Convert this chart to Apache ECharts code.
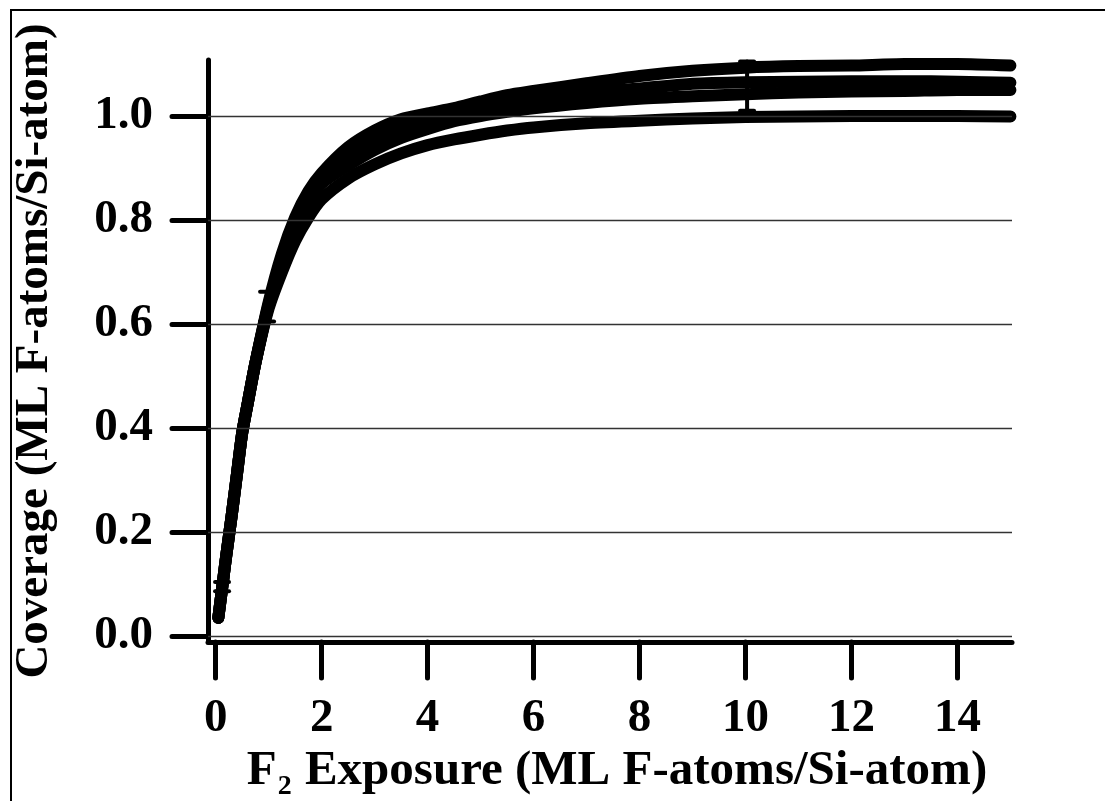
<!DOCTYPE html>
<html>
<head>
<meta charset="utf-8">
<title>F2 exposure coverage</title>
<script src="https://cdn.jsdelivr.net/npm/echarts@6/dist/echarts.min.js"></script>
<style>
  html, body { margin: 0; padding: 0; background: #fff; }
  #chart { width: 1105px; height: 801px; }
</style>
</head>
<body>
<div id="chart"></div>
<script>
// Exposure values (ML F-atoms/Si-atom) at which each uptake curve is sampled
const exposure = [0.05, 0.1, 0.15, 0.2, 0.3, 0.4, 0.5, 0.6, 0.75, 1.0, 1.25, 1.5, 1.75, 2.0, 2.5, 3.0, 3.5, 4.0, 4.5, 5.0, 5.5, 6.0, 7.0, 8.0, 9.0, 10.0, 11.0, 12.0, 13.0, 14.0, 15.0];

// Coverage (ML F-atoms/Si-atom) for each run
const coverageRun1 = [0.035, 0.075, 0.115, 0.155, 0.23, 0.31, 0.39, 0.445, 0.525, 0.63, 0.70, 0.76, 0.805, 0.84, 0.88, 0.907, 0.928, 0.944, 0.955, 0.964, 0.972, 0.978, 0.986, 0.991, 0.995, 0.998, 0.999, 1.0, 1.0, 1.0, 0.999];
const coverageRun2 = [0.035, 0.075, 0.115, 0.155, 0.23, 0.31, 0.39, 0.445, 0.525, 0.635, 0.715, 0.785, 0.835, 0.87, 0.905, 0.935, 0.958, 0.975, 0.99, 1.0, 1.008, 1.015, 1.025, 1.033, 1.038, 1.042, 1.045, 1.047, 1.048, 1.05, 1.05];
const coverageRun3 = [0.035, 0.075, 0.115, 0.155, 0.23, 0.31, 0.39, 0.445, 0.525, 0.638, 0.722, 0.795, 0.845, 0.88, 0.925, 0.955, 0.977, 0.99, 1.002, 1.012, 1.022, 1.03, 1.045, 1.053, 1.062, 1.065, 1.066, 1.067, 1.067, 1.066, 1.064];
const coverageRun4 = [0.035, 0.075, 0.115, 0.155, 0.23, 0.31, 0.39, 0.445, 0.525, 0.642, 0.735, 0.805, 0.855, 0.89, 0.94, 0.972, 0.994, 1.005, 1.015, 1.028, 1.04, 1.048, 1.063, 1.077, 1.087, 1.093, 1.096, 1.097, 1.1, 1.1, 1.097];

// Error bars: exposure, lower and upper coverage
const errExposure = [0.12, 0.97, 10.03];
const errLow = [0.086, 0.605, 1.01];
const errHigh = [0.104, 0.662, 1.105];

// Axis ticks and reference lines
const xTicks = [0, 2, 4, 6, 8, 10, 12, 14];
const yTicks = [0.0, 0.2, 0.4, 0.6, 0.8, 1.0];
const gridValues = [0.0, 0.2, 0.4, 0.6, 0.8, 1.0];

const FONT = '"Liberation Serif", "Times New Roman", serif';
const runs = [coverageRun1, coverageRun2, coverageRun3, coverageRun4];

const chart = echarts.init(document.getElementById('chart'), null, { renderer: 'canvas' });

const curveSeries = runs.map((run) => ({
  type: 'line',
  data: exposure.map((x, i) => [x, run[i]]),
  showSymbol: false,
  smooth: 0.25,
  z: 3,
  silent: true,
  lineStyle: { color: '#000', width: 12, cap: 'round', join: 'round' }
}));

const option = {
  backgroundColor: '#fff',
  animation: false,
  grid: { left: 208, right: 93, top: 60, bottom: 159, containLabel: false, outerBoundsMode: 'none' },
  xAxis: {
    type: 'value',
    min: -0.145,
    max: 15.03,
    name: '{m|F}{s|2}{m| Exposure (ML F-atoms/Si-atom)}',
    nameLocation: 'middle',
    nameGap: 104,
    nameTextStyle: {
      padding: [0, 0, 0, 14],
      rich: {
        m: { fontFamily: FONT, fontWeight: 'bold', fontSize: 49, color: '#000', lineHeight: 49, verticalAlign: 'top' },
        s: { fontFamily: FONT, fontWeight: 'bold', fontSize: 28, color: '#000', lineHeight: 28, verticalAlign: 'top', padding: [26, 1, 0, 1] }
      }
    },
    axisLine: { show: true, onZero: false, lineStyle: { color: '#000', width: 5, cap: 'round' } },
    axisTick: { show: true, customValues: xTicks, length: 36, inside: false, lineStyle: { color: '#000', width: 5, cap: 'round' } },
    axisLabel: { customValues: xTicks, margin: 53, fontFamily: FONT, fontWeight: 'bold', fontSize: 47, color: '#000' },
    splitLine: { show: false }
  },
  yAxis: {
    type: 'value',
    min: -0.0115,
    max: 1.1077,
    name: 'Coverage (ML F-atoms/Si-atom)',
    nameLocation: 'middle',
    nameRotate: 90,
    nameGap: 150,
    nameTextStyle: { fontFamily: FONT, fontWeight: 'bold', fontSize: 47, color: '#000' },
    axisLine: { show: true, onZero: false, lineStyle: { color: '#000', width: 5, cap: 'round' } },
    axisTick: { show: true, customValues: yTicks, length: 36, inside: false, lineStyle: { color: '#000', width: 5, cap: 'round' } },
    axisLabel: {
      customValues: yTicks, margin: 55, fontFamily: FONT, fontWeight: 'bold', fontSize: 47, color: '#000',
      padding: [0, 0, 8, 0],
      formatter: (v) => v.toFixed(1)
    },
    splitLine: { show: false }
  },
  graphic: [{
    type: 'rect',
    x: 11, y: 10,
    shape: { x: 0, y: 0, width: 1300, height: 1000 },
    style: { fill: 'none', stroke: '#000', lineWidth: 2 },
    silent: true, z: 0
  }],
  series: [
    {
      // horizontal reference lines
      type: 'line',
      data: [],
      z: 1,
      silent: true,
      markLine: {
        silent: true,
        symbol: 'none',
        label: { show: false },
        lineStyle: { color: '#333', width: 1.3, type: 'solid' },
        data: gridValues.map((v) => ({ yAxis: v }))
      }
    },
    ...curveSeries,
    {
      type: 'custom',
      z: 4,
      silent: true,
      data: errExposure.map((x, i) => [x, errLow[i], errHigh[i]]),
      encode: { x: 0, y: [1, 2] },
      renderItem: (params, api) => {
        const lo = api.coord([api.value(0), api.value(1)]);
        const hi = api.coord([api.value(0), api.value(2)]);
        const half = 7;
        const style = { stroke: '#000', lineWidth: 4, lineCap: 'round' };
        return {
          type: 'group',
          children: [
            { type: 'line', shape: { x1: lo[0], y1: lo[1], x2: hi[0], y2: hi[1] }, style },
            { type: 'line', shape: { x1: lo[0] - half, y1: lo[1], x2: lo[0] + half, y2: lo[1] }, style },
            { type: 'line', shape: { x1: hi[0] - half, y1: hi[1], x2: hi[0] + half, y2: hi[1] }, style }
          ]
        };
      }
    }
  ]
};

chart.setOption(option);
</script>
</body>
</html>
